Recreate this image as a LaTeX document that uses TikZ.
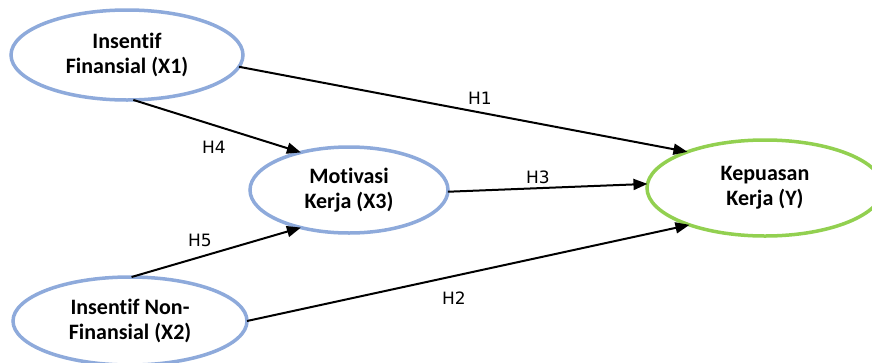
\documentclass[tikz,border=0pt]{standalone}
\usepackage{fontspec}
\setmainfont{Carlito}[Ligatures=NoCommon, RawFeature={-liga;-clig;-dlig}]
\newfontfamily\labfont{DejaVu Sans}
\usetikzlibrary{shapes.geometric,arrows.meta}
\definecolor{ellblue}{HTML}{8EAADB}
\definecolor{ellgreen}{HTML}{92D050}
\begin{document}
\begin{tikzpicture}[x=1pt,y=-1pt,
  var/.style={ellipse, draw=ellblue, line width=3.5pt, inner sep=0pt, outer sep=0pt,
    align=center, font=\fontsize{22}{25}\selectfont\bfseries},
  conn/.style={line width=2pt, -{Triangle[length=14pt,width=11pt]}},
  hlab/.style={font=\labfont\fontsize{17}{20}\selectfont, inner sep=0pt}]
\useasboundingbox (0,0) rectangle (872,362);
\fill[white] (0,0) rectangle (872,362);
\node[var, minimum width=232pt, minimum height=90pt] (x1) at (127,55) {Insentif\\Finansial (X1)};
\node[var, minimum width=198pt, minimum height=86pt] (x3) at (349,190) {Motivasi\\Kerja (X3)};
\node[var, minimum width=234pt, minimum height=88pt] (x2) at (130,321) {Insentif Non-\\Finansial (X2)};
\node[var, draw=ellgreen, minimum width=236pt, minimum height=96pt] (y) at (765,188) {Kepuasan\\Kerja (Y)};
\draw[conn] (x1.-6) -- (y.155);
\draw[conn] (x1.-82) -- (x3.142);
\draw[conn] (x3.-1) -- (y.178);
\draw[conn] (x2.88) -- (x3.-142);
\draw[conn] (x2.0) -- (y.-154);
\node[hlab] (h1) at (480,98) {H1};
\node[hlab] (h4) at (214,147) {H4};
\node[hlab] (h3) at (538,177) {H3};
\node[hlab] (h5) at (200,240) {H5};
\node[hlab] (h2) at (454,298) {H2};
\end{tikzpicture}
\end{document}
